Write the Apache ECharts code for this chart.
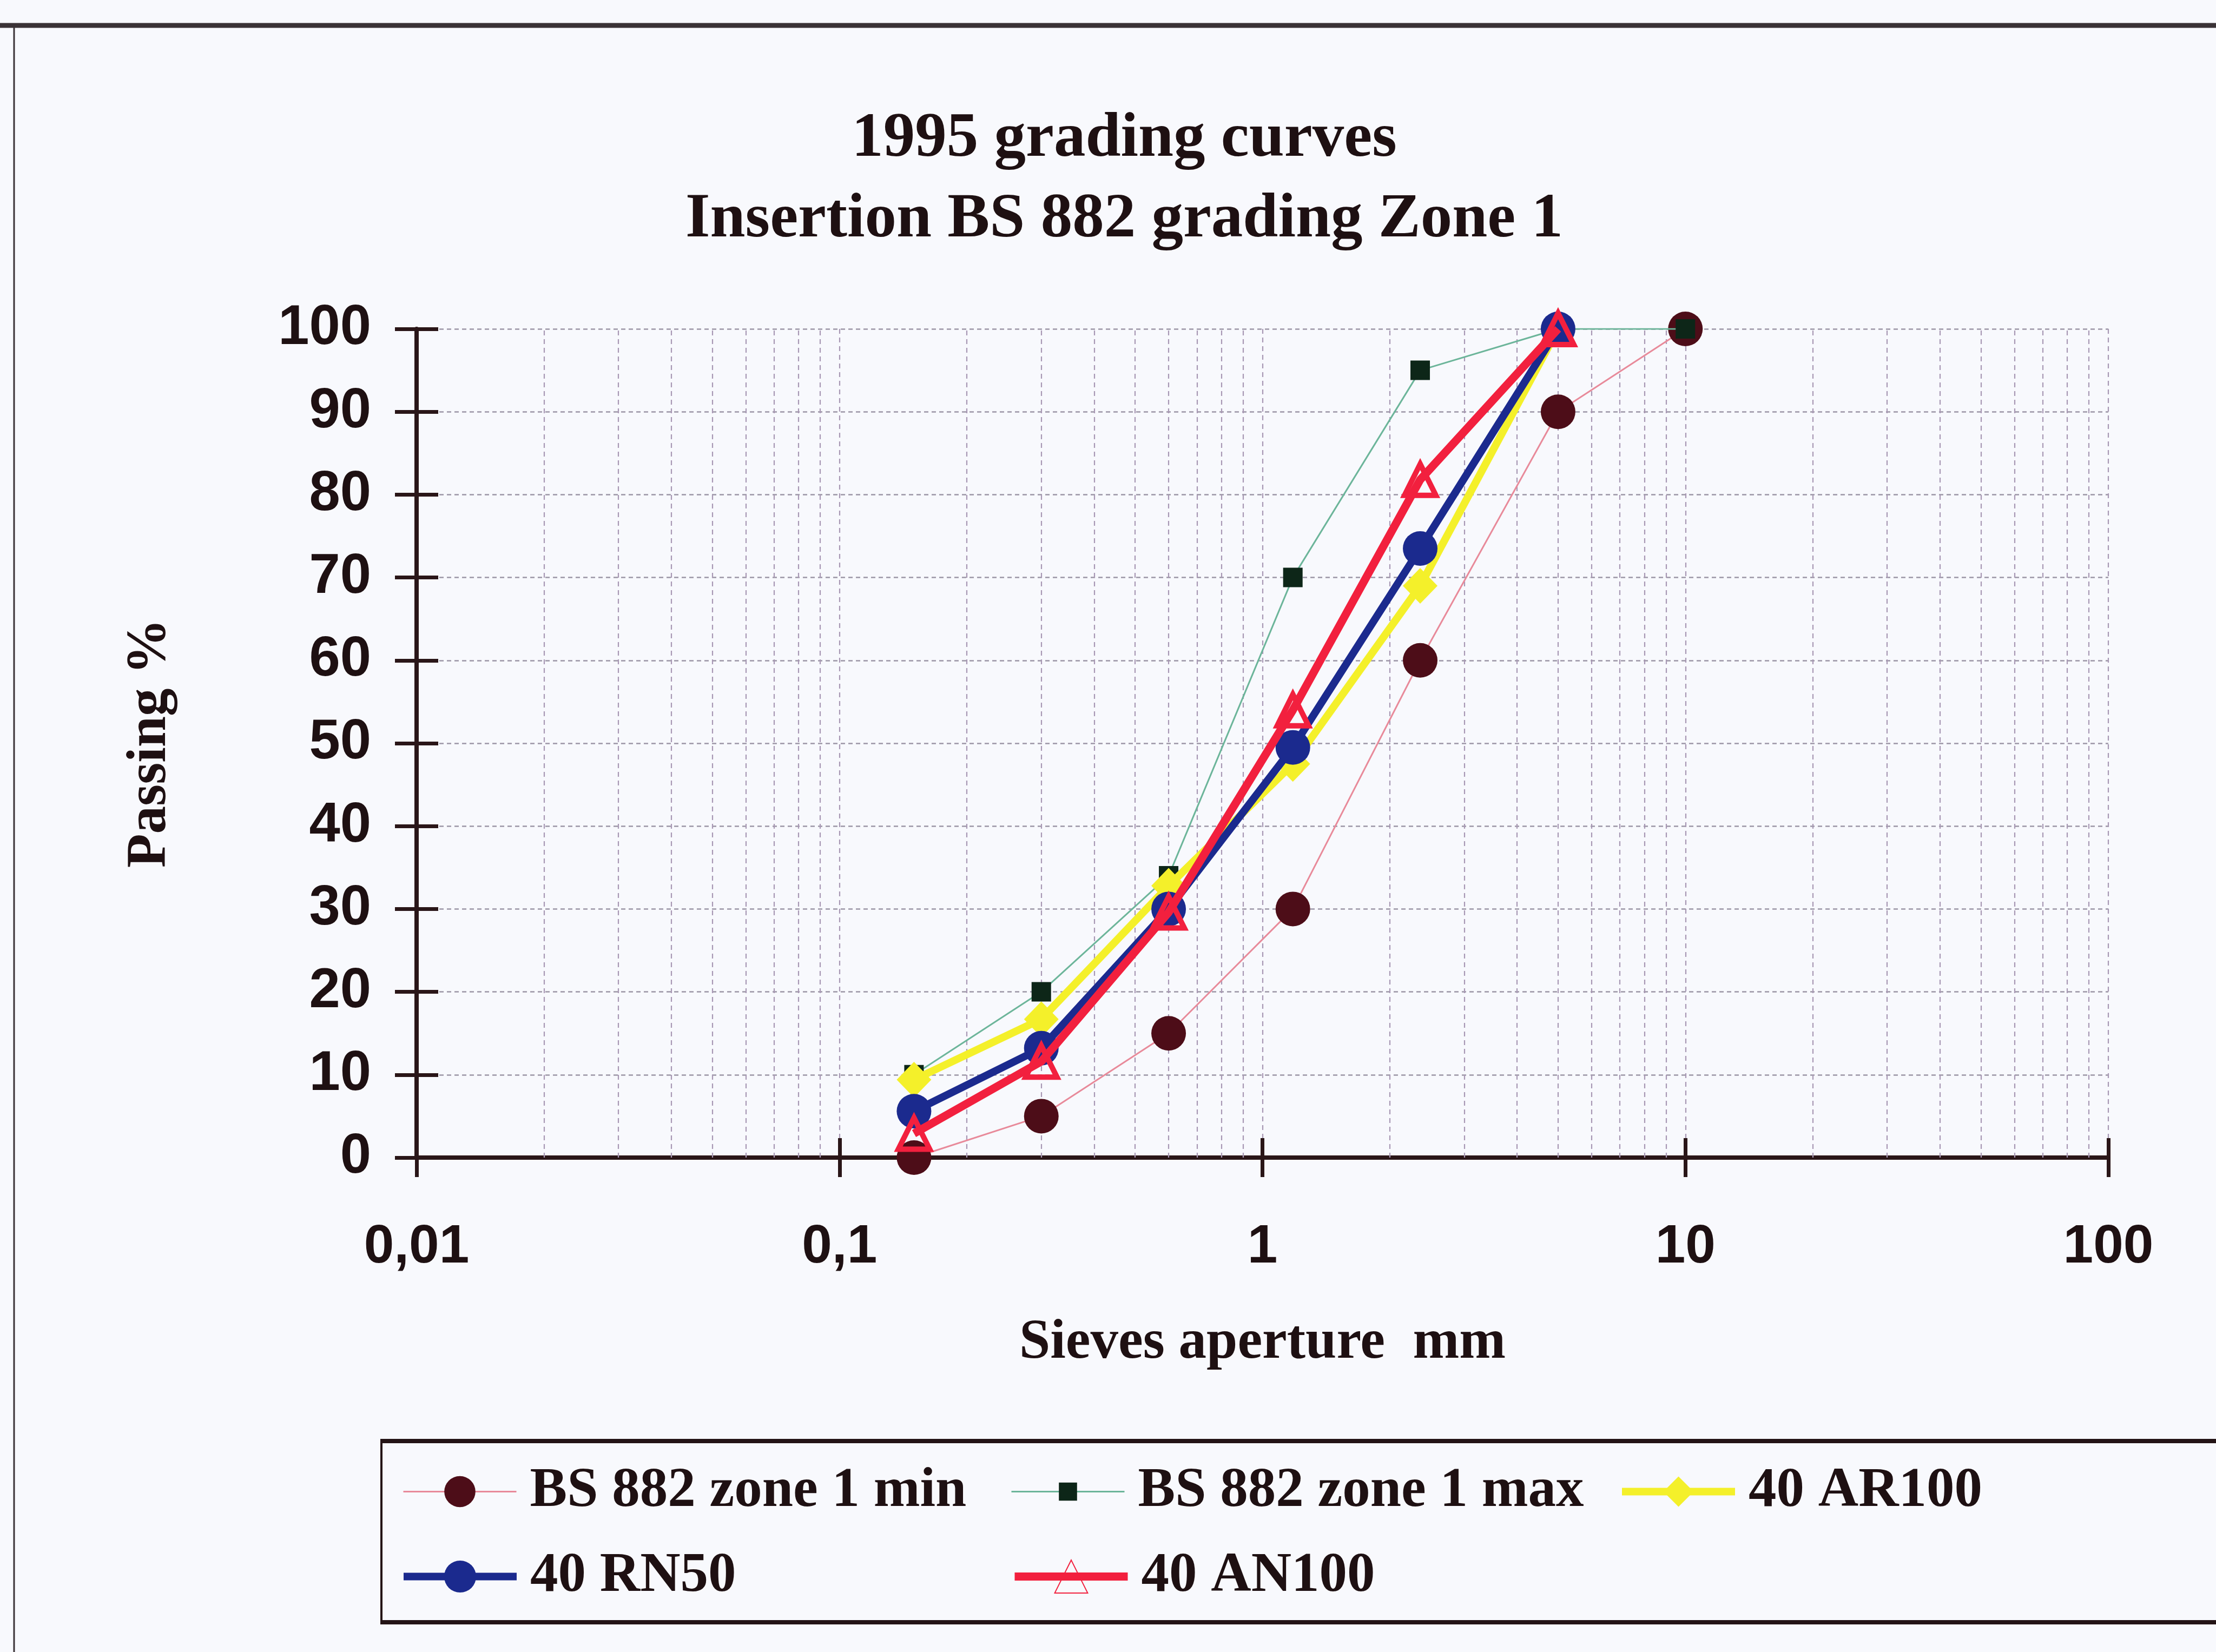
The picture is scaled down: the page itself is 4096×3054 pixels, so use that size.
<!DOCTYPE html>
<html>
<head>
<meta charset="utf-8">
<script src="https://cdn.jsdelivr.net/npm/echarts@6/dist/echarts.min.js"></script>
<style>
  html, body { margin: 0; padding: 0; background: #f8f9fd; }
  #chart { width: 4096px; height: 3054px; }
</style>
</head>
<body>
<div id="chart"></div>
<script>
// ---- data ----
const sieves = [0.15, 0.3, 0.6, 1.18, 2.36, 5, 10];
const zoneMin = [0, 5, 15, 30, 60, 90, 100];
const zoneMax = [10, 20, 34, 70, 95, 100, 100];
const ar100 = [9.4, 16.7, 32.8, 47.5, 69, 100];
const rn50 = [5.6, 13.2, 30, 49.5, 73.5, 100];
const an100 = [2.9, 11.6, 29.6, 54, 81.8, 100];
const seriesNames = ['BS 882 zone 1 min', 'BS 882 zone 1 max', '40 AR100', '40 RN50', '40 AN100'];
const xTickLabels = ['0,01', '0,1', '1', '10', '100'];
const decadeStarts = [0.01, 0.1, 1, 10];
const minorMultipliers = [2, 3, 4, 5, 6, 7, 8, 9];

function pairs(xs, ys) { return ys.map((y, i) => [xs[i], y]); }

const minorLines = [];
decadeStarts.forEach(d => minorMultipliers.forEach(m => minorLines.push({ xAxis: +(d * m).toPrecision(6) })));

const ink = '#1e1012';
const serif = "'Liberation Serif', 'Times New Roman', serif";
const sans = "'Liberation Sans', Arial, sans-serif";

const legendBase = {
  orient: 'horizontal', padding: 0, selectedMode: false, itemWidth: 209,
  textStyle: { fontFamily: serif, fontWeight: 'bold', fontSize: 103, color: ink, padding: [0, 0, 0, 20] }
};

const chart = echarts.init(document.getElementById('chart'), null, { renderer: 'canvas' });
chart.setOption({
  backgroundColor: '#f8f9fd',
  animation: false,
  title: {
    text: '1995 grading curves\nInsertion BS 882 grading Zone 1',
    left: 2073, top: 178, textAlign: 'center',
    textStyle: { fontFamily: serif, fontWeight: 'bold', fontSize: 117, lineHeight: 149, color: ink }
  },
  grid: { left: 770, right: 199, top: 608, bottom: 914, containLabel: false },
  legend: [
    Object.assign({}, legendBase, { data: [seriesNames[0]], left: 744, top: 2706, itemHeight: 72, lineStyle: { width: 3 } }),
    Object.assign({}, legendBase, { data: [seriesNames[1]], left: 1868, top: 2706, itemHeight: 42, lineStyle: { width: 3 } }),
    Object.assign({}, legendBase, { data: [seriesNames[2]], left: 2991, top: 2706, itemHeight: 70, lineStyle: { width: 14 } }),
    Object.assign({}, legendBase, { data: [seriesNames[3]], left: 739, top: 2863, itemHeight: 74, lineStyle: { width: 14 } }),
    Object.assign({}, legendBase, { data: [seriesNames[4]], left: 1868, top: 2863, itemHeight: 76, lineStyle: { width: 15 } })
  ],
  xAxis: [
    {
      type: 'log', logBase: 10, min: 0.01, max: 100, position: 'bottom',
      name: 'Sieves aperture  mm', nameLocation: 'middle', nameGap: 292,
      nameTextStyle: { fontFamily: serif, fontWeight: 'bold', fontSize: 103, color: ink },
      axisLine: { show: true, onZero: false, lineStyle: { color: '#2a1618', width: 8 } },
      axisTick: { show: true, inside: false, length: 36, lineStyle: { color: '#2a1618', width: 7 } },
      axisLabel: {
        margin: 116, fontFamily: sans, fontWeight: 'bold', fontSize: 100, color: ink,
        formatter: v => xTickLabels[Math.round(Math.log10(v)) + 2]
      },
      splitLine: { show: true, lineStyle: { color: '#a898b4', width: 2.2, type: [9, 7] } }
    },
    {
      type: 'log', logBase: 10, min: 0.01, max: 100, position: 'bottom',
      axisLine: { show: false },
      axisTick: { show: true, inside: true, length: 36, lineStyle: { color: '#2a1618', width: 7 } },
      axisLabel: { show: false },
      splitLine: { show: false }
    }
  ],
  yAxis: [
    {
      type: 'value', min: 0, max: 100, interval: 10, position: 'left',
      name: 'Passing %', nameLocation: 'middle', nameGap: 440, nameRotate: 90,
      nameTextStyle: { fontFamily: serif, fontWeight: 'bold', fontSize: 103, color: ink },
      axisLine: { show: true, onZero: false, lineStyle: { color: '#2a1618', width: 8 } },
      axisTick: { show: true, inside: false, length: 40, lineStyle: { color: '#2a1618', width: 7 } },
      axisLabel: { margin: 84, fontFamily: sans, fontWeight: 'bold', fontSize: 103, color: ink },
      splitLine: { show: true, lineStyle: { color: '#9c96a6', width: 2.5, type: [8, 6] } }
    },
    {
      type: 'value', min: 0, max: 100, interval: 10, position: 'left',
      axisLine: { show: false },
      axisTick: { show: true, inside: true, length: 40, lineStyle: { color: '#2a1618', width: 7 } },
      axisLabel: { show: false },
      splitLine: { show: false }
    }
  ],
  series: [
    {
      name: seriesNames[0], type: 'line', z: 3, data: pairs(sieves, zoneMin),
      symbol: 'circle', symbolSize: 64,
      itemStyle: { color: '#4d0d18' },
      lineStyle: { color: '#e88a9a', width: 3 },
      markLine: {
        silent: true, z: 1, symbol: ['none', 'none'], animation: false,
        label: { show: false }, emphasis: { disabled: true },
        lineStyle: { color: '#a898b4', width: 2.2, type: [9, 7] },
        data: minorLines
      }
    },
    {
      name: seriesNames[1], type: 'line', z: 4, data: pairs(sieves, zoneMax),
      symbol: 'rect', symbolSize: 36,
      itemStyle: { color: '#0d2618' },
      lineStyle: { color: '#6cb59a', width: 3 }
    },
    {
      name: seriesNames[2], type: 'line', z: 5, data: pairs(sieves, ar100),
      symbol: 'diamond', symbolSize: [64, 66],
      itemStyle: { color: '#f4f02a' },
      lineStyle: { color: '#f4f02a', width: 14 }
    },
    {
      name: seriesNames[3], type: 'line', z: 6, data: pairs(sieves, rn50),
      symbol: 'circle', symbolSize: 64,
      itemStyle: { color: '#1b2a8e' },
      lineStyle: { color: '#1b2a8e', width: 14 }
    },
    {
      name: seriesNames[4], type: 'line', z: 7, data: pairs(sieves, an100),
      symbol: 'triangle', symbolSize: 58,
      itemStyle: { color: 'rgba(255,255,255,0)', borderColor: '#f2203e', borderWidth: 10 },
      lineStyle: { color: '#f2203e', width: 15 }
    }
  ],
  graphic: [
    { type: 'line', shape: { x1: 0, y1: 47, x2: 4096, y2: 47 }, style: { stroke: '#3a3236', lineWidth: 9 }, silent: true },
    { type: 'line', shape: { x1: 26, y1: 47, x2: 26, y2: 3054 }, style: { stroke: '#3a3236', lineWidth: 3 }, silent: true },
    { type: 'line', shape: { x1: 705, y1: 2664, x2: 4096, y2: 2664 }, style: { stroke: '#241416', lineWidth: 8 }, silent: true },
    { type: 'line', shape: { x1: 705, y1: 2999, x2: 4096, y2: 2999 }, style: { stroke: '#241416', lineWidth: 8 }, silent: true },
    { type: 'line', shape: { x1: 705, y1: 2660, x2: 705, y2: 3003 }, style: { stroke: '#241416', lineWidth: 4 }, silent: true }
  ]
});
</script>
</body>
</html>
